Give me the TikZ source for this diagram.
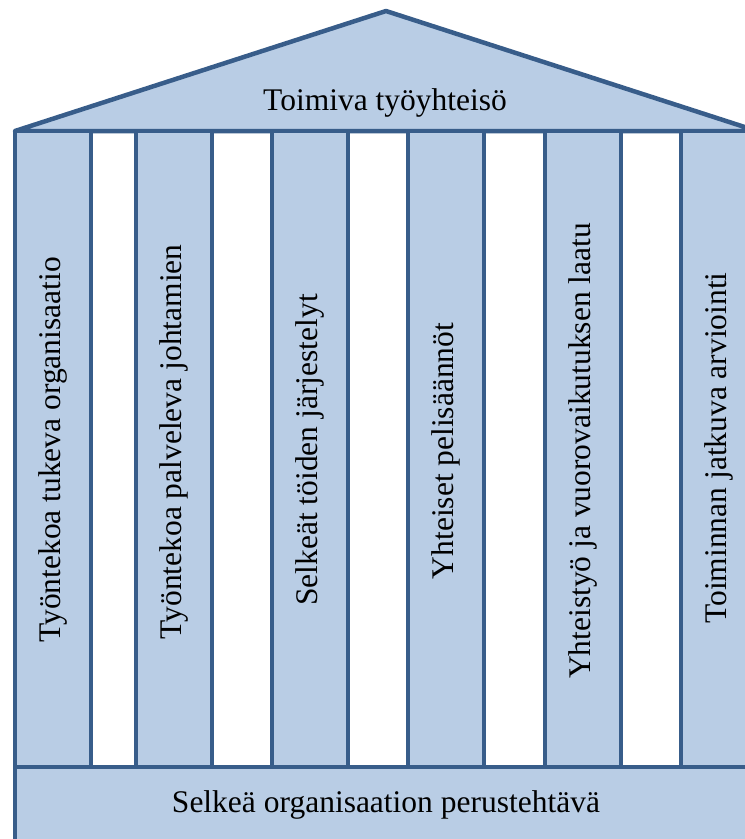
\documentclass[tikz,border=0pt]{standalone}
\usepackage{fontspec}
\setmainfont{Liberation Serif}
\newfontfamily\tnr{Liberation Serif}
\definecolor{fillblue}{HTML}{B9CDE5}
\definecolor{lineblue}{HTML}{385D8A}
\begin{document}
\begin{tikzpicture}[x=1pt,y=-1pt,
  part/.style={draw=lineblue,fill=fillblue,line width=4.5pt,line join=round},
  label/.style={font=\tnr\fontsize{31.5}{38}\selectfont,inner sep=0pt,text=black},
  vlabel/.style={label,rotate=90}]
\useasboundingbox (0,0) rectangle (745,839);
\begin{scope}
\clip (0,0) rectangle (745,839);
% roof
\draw[part] (15,131) -- (386,11) -- (757,131) -- cycle;
% pillars
\foreach \xa in {15,136,272,408,545,681}{
  \draw[part] (\xa,131) rectangle ++(76,636);
}
% base
\draw[part] (15,767) rectangle (757,845);
\end{scope}
% texts
\node[label] (roof) at (385,103) {Toimiva työyhteisö};
\node[vlabel] (p1) at (53,450) {Työntekoa tukeva organisaatio};
\node[vlabel] (p2) at (174,442) {Työntekoa palveleva johtamien};
\node[vlabel] (p3) at (310,450) {Selkeät töiden järjestelyt};
\node[vlabel] (p4) at (446,451) {Yhteiset pelisäännöt};
\node[vlabel] (p5) at (583,451) {Yhteistyö ja vuorovaikutuksen laatu};
\node[vlabel] (p6) at (719,448) {Toiminnan jatkuva arviointi};
\node[label] (base) at (386,805) {Selkeä organisaation perustehtävä};
\end{tikzpicture}
\end{document}
